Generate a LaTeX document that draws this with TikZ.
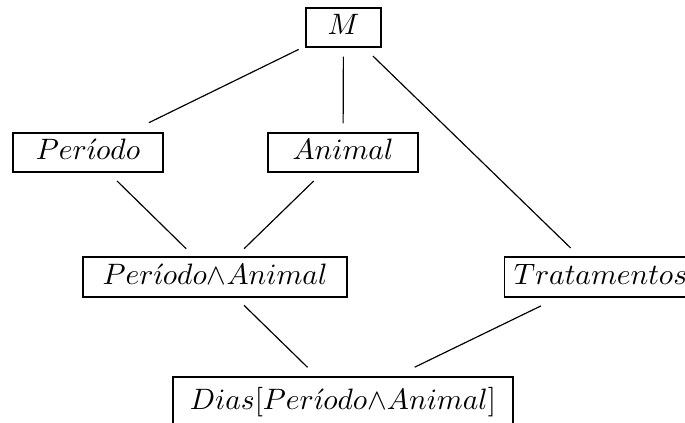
\documentclass[tikz,border=0pt]{standalone}
\newcommand\unitpx{0.339pt}
\begin{document}
\begin{tikzpicture}[x=0.339pt,y=-0.339pt,
  box/.style={draw, line width=0.42pt, inner sep=0pt, text height=0.75em, text depth=0.25em, minimum height=39*\unitpx},
  link/.style={line width=0.4pt}]
\useasboundingbox (0,0) rectangle (685,423);
\clip (0,0) rectangle (685,423);
\node[box, minimum width=75*\unitpx] (M) at (343.5,27.5) {$M$};
\node[box, minimum width=150*\unitpx] (P) at (88,152.5) {$Per\acute{\imath}odo$};
\node[box, minimum width=150*\unitpx] (A) at (343,152.5) {$Animal$};
\node[box, minimum width=264*\unitpx, minimum height=40*\unitpx] (PA) at (215,277) {$Per\acute{\imath}odo{\wedge}Animal$};
\node[box, minimum width=192*\unitpx, minimum height=40*\unitpx] (T) at (600.5,277) {$Tratamentos$};
\node[box, minimum width=340*\unitpx, minimum height=50*\unitpx] (D) at (343,402) {$Dias[Per\acute{\imath}odo{\wedge}Animal]$};
\draw[link, shorten <=7.5*\unitpx, shorten >=22*\unitpx] (M) -- (P);
\draw[link, shorten <=9*\unitpx, shorten >=9*\unitpx] (M) -- (A);
\draw[link, shorten <=12*\unitpx, shorten >=12*\unitpx] (M) -- (T);
\draw[link, shorten <=12*\unitpx, shorten >=11*\unitpx] (P) -- (PA);
\draw[link, shorten <=12*\unitpx, shorten >=11*\unitpx] (A) -- (PA);
\draw[link, shorten <=11*\unitpx, shorten >=13*\unitpx] (PA) -- (D);
\draw[link, shorten <=19*\unitpx, shorten >=21*\unitpx] (T) -- (D);
\end{tikzpicture}
\end{document}
